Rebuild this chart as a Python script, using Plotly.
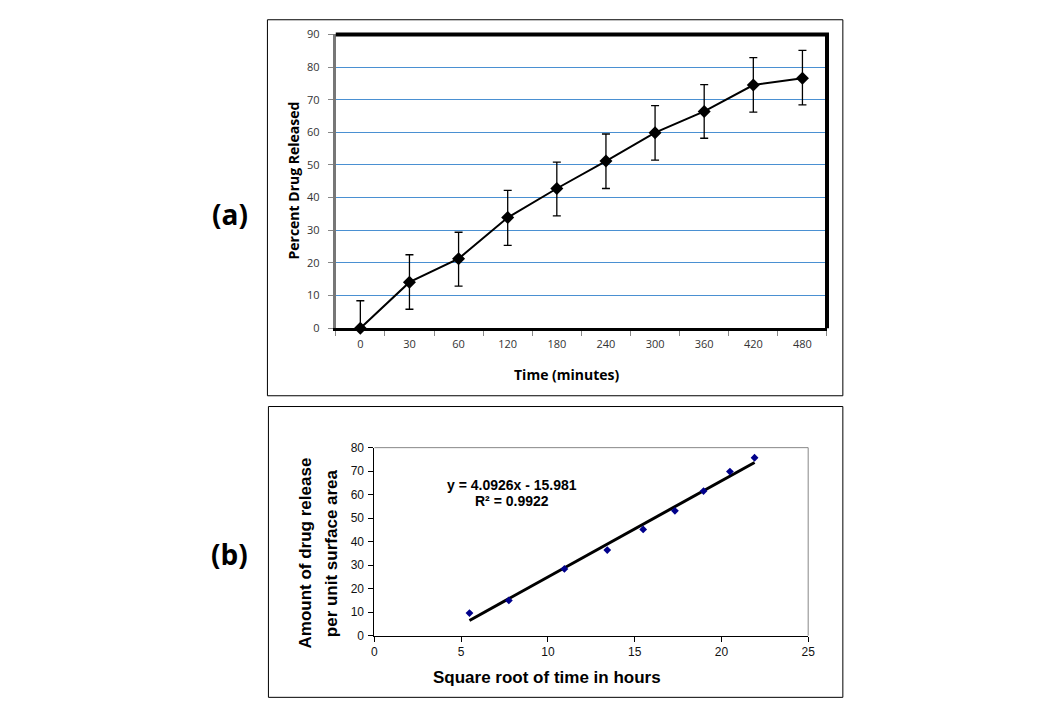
import plotly.graph_objects as go

# ---------- data: panel (a) ----------
time_labels = ["0", "30", "60", "120", "180", "240", "300", "360", "420", "480"]
percent_released = [0.0, 14.1, 21.3, 33.9, 42.8, 51.2, 59.9, 66.4, 74.5, 76.6]
err_plus = [8.4, 8.4, 8.1, 8.3, 8.1, 8.3, 8.3, 8.2, 8.4, 8.5]
err_minus = [0.0, 8.3, 8.4, 8.5, 8.4, 8.4, 8.4, 8.2, 8.3, 8.2]
y_ticks_a = [0, 10, 20, 30, 40, 50, 60, 70, 80, 90]

# ---------- data: panel (b) ----------
sqrt_time = [5.48, 7.75, 10.95, 13.42, 15.49, 17.32, 18.97, 20.49, 21.91]
amount_released = [9.6, 15.0, 28.4, 36.4, 45.2, 53.1, 61.5, 69.8, 75.7]
slope = 4.0926
intercept = -15.981
r_squared = 0.9922

W, H = 1040, 720
def px(x):
    return x / W
def py(y):
    return 1 - y / H

# plot-area pixel boxes
A = dict(l=336, r=832, t=27, b=327)
B = dict(l=375, r=813, t=449, b=641)

trend_x = [min(sqrt_time), max(sqrt_time)]
trend_y = [slope * v + intercept for v in trend_x]

fig = go.Figure()

fig.add_trace(go.Scatter(
    x=time_labels, y=percent_released, mode="lines+markers",
    line=dict(color="black", width=2),
    marker=dict(symbol="diamond", size=10, color="black"),
    error_y=dict(type="data", symmetric=False, array=err_plus, arrayminus=err_minus,
                 color="black", thickness=1.3, width=4),
    cliponaxis=False, xaxis="x", yaxis="y", showlegend=False,
))

fig.add_trace(go.Scatter(
    x=trend_x, y=trend_y, mode="lines",
    line=dict(color="black", width=3),
    xaxis="x2", yaxis="y2", showlegend=False,
))
fig.add_trace(go.Scatter(
    x=sqrt_time, y=amount_released, mode="markers",
    marker=dict(symbol="diamond", size=6, color="#00008B"),
    xaxis="x2", yaxis="y2", showlegend=False,
))

font_a = "Open Sans, Noto Sans, sans-serif"
font_b = "Liberation Sans, Arial, sans-serif"

fig.update_layout(
    width=W, height=H, margin=dict(l=0, r=0, t=0, b=0),
    paper_bgcolor="white", plot_bgcolor="white",
    xaxis=dict(
        domain=[px(A["l"]), px(A["r"])], anchor="y", type="category",
        range=[-0.5, 9.5], tickson="boundaries", ticks="outside", ticklen=5,
        tickcolor="#888", showgrid=False, showline=True, linecolor="black",
        linewidth=3, tickfont=dict(family=font_a, size=11, color="#333"),
        ticklabelstandoff=4,
    ),
    yaxis=dict(
        domain=[py(A["b"]), py(A["t"])], anchor="x", range=[0, 90],
        tickvals=y_ticks_a, ticks="outside", ticklen=5, tickcolor="#888",
        showgrid=True, gridcolor="#4A90D2", gridwidth=1, zeroline=False,
        showline=True, linecolor="#777", linewidth=3,
        tickfont=dict(family=font_a, size=11, color="#333"),
        ticklabelstandoff=6,
    ),
    xaxis2=dict(
        domain=[px(B["l"]), px(B["r"])], anchor="y2", range=[0, 25], dtick=5,
        ticks="outside", ticklen=5, tickcolor="black", showgrid=False,
        zeroline=False, showline=True, linecolor="black", linewidth=1,
        tickfont=dict(family=font_b, size=12, color="#111"),
    ),
    yaxis2=dict(
        domain=[py(B["b"]), py(B["t"])], anchor="x2", range=[0, 80], dtick=10,
        ticks="outside", ticklen=5, tickcolor="black", showgrid=False,
        zeroline=False, showline=True, linecolor="black", linewidth=1,
        tickfont=dict(family=font_b, size=12, color="#111"),
        ticklabelstandoff=2,
    ),
)

shapes = [
    # outer frames
    dict(type="rect", xref="paper", yref="paper", x0=px(267), x1=px(848),
         y0=py(396), y1=py(12), line=dict(color="black", width=1)),
    dict(type="rect", xref="paper", yref="paper", x0=px(268), x1=px(848),
         y0=py(704), y1=py(407), line=dict(color="black", width=1)),
    # panel (a) thick top / right border
    dict(type="line", xref="paper", yref="paper", x0=px(A["l"]), x1=px(A["r"] + 2),
         y0=py(A["t"]), y1=py(A["t"]), line=dict(color="black", width=4)),
    dict(type="line", xref="paper", yref="paper", x0=px(A["r"]), x1=px(A["r"]),
         y0=py(A["t"]), y1=py(A["b"]), line=dict(color="black", width=4)),
    # panel (b) grey top / right frame
    dict(type="line", xref="paper", yref="paper", x0=px(B["l"]), x1=px(B["r"]),
         y0=py(B["t"]), y1=py(B["t"]), line=dict(color="#888", width=1)),
    dict(type="line", xref="paper", yref="paper", x0=px(B["r"]), x1=px(B["r"]),
         y0=py(B["t"]), y1=py(B["b"]), line=dict(color="#888", width=1)),
]
fig.update_layout(shapes=shapes)

ann = [
    dict(text="<b>Percent Drug Released</b>", x=px(293), y=py(176), textangle=-90,
         font=dict(family=font_a, size=14, color="black")),
    dict(text="<b>Time (minutes)</b>", x=px(569), y=py(374),
         font=dict(family=font_a, size=14, color="black")),
    dict(text="<b>(a)</b>", x=px(229), y=py(210),
         font=dict(family=font_a, size=28, color="black")),
    dict(text="<b>(b)</b>", x=px(229), y=py(558),
         font=dict(family=font_a, size=28, color="black")),
    dict(text="<b>Amount of drug release</b>", x=px(305), y=py(557), textangle=-90,
         font=dict(family=font_b, size=17, color="black")),
    dict(text="<b>per unit surface area</b>", x=px(332), y=py(557), textangle=-90,
         font=dict(family=font_b, size=17, color="black")),
    dict(text="<b>Square root of time in hours</b>", x=px(549), y=py(684),
         font=dict(family=font_b, size=17, color="black")),
    dict(text=f"<b>y = {slope}x - {abs(intercept)}</b>", x=px(514), y=py(487),
         font=dict(family=font_b, size=14, color="black")),
    dict(text=f"<b>R² = {r_squared}</b>", x=px(514), y=py(504),
         font=dict(family=font_b, size=14, color="black")),
]
for a in ann:
    a.update(xref="paper", yref="paper", showarrow=False, xanchor="center", yanchor="middle")
fig.update_layout(annotations=ann)

fig.write_html(
    "out.html",
    config={"displayModeBar": False},
    post_script=(
        "document.documentElement.style.margin='0';"
        "document.body.style.margin='0';document.body.style.padding='0';"
        "document.body.style.overflow='hidden';"
        "var d=document.getElementById('{plot_id}');"
        "d.style.position='fixed';d.style.left='0px';d.style.top='0px';"
    ),
)
